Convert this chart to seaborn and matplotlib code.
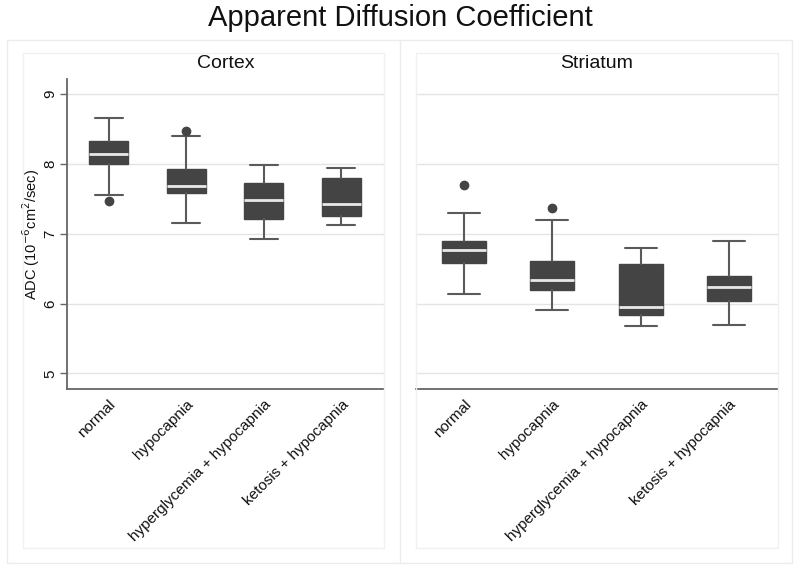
import matplotlib
matplotlib.use('Agg')
import matplotlib.pyplot as plt
import seaborn as sns
from matplotlib.patches import Rectangle

sns.set_theme(style='white')
plt.rcParams['font.family'] = ['Liberation Sans', 'DejaVu Sans']

# Datos (resumen de cada caja)
groups = ['normal', 'hypocapnia', 'hyperglycemia + hypocapnia', 'ketosis + hypocapnia']
regions = ['Cortex', 'Striatum']

cortex_whislo = [7.56, 7.15, 6.93, 7.12]
cortex_q1 = [8.00, 7.58, 7.21, 7.26]
cortex_med = [8.14, 7.68, 7.48, 7.43]
cortex_q3 = [8.32, 7.92, 7.72, 7.80]
cortex_whishi = [8.65, 8.40, 7.98, 7.94]
cortex_fliers = [[7.47], [8.47], [], []]

striatum_whislo = [6.13, 5.90, 5.68, 5.69]
striatum_q1 = [6.58, 6.20, 5.84, 6.03]
striatum_med = [6.77, 6.33, 5.95, 6.23]
striatum_q3 = [6.90, 6.61, 6.56, 6.40]
striatum_whishi = [7.29, 7.19, 6.79, 6.90]
striatum_fliers = [[7.70], [7.37], [], []]

yticks = [5, 6, 7, 8, 9]


def make_stats(lo, q1, med, q3, hi, fl):
    return [dict(label=g, whislo=a, q1=b, med=c, q3=d, whishi=e, fliers=f)
            for g, a, b, c, d, e, f in zip(groups, lo, q1, med, q3, hi, fl)]


stats = {
    'Cortex': make_stats(cortex_whislo, cortex_q1, cortex_med, cortex_q3, cortex_whishi, cortex_fliers),
    'Striatum': make_stats(striatum_whislo, striatum_q1, striatum_med, striatum_q3, striatum_whishi, striatum_fliers),
}

W, H = 800, 571
fig = plt.figure(figsize=(8, 5.71), dpi=100)
fig.patch.set_facecolor('white')


def fx(px):
    return px / W


def fy(py):
    return 1 - py / H


# Marcos de fondo (estilo Stata)
fig.patches.append(Rectangle((fx(7), fy(563)), fx(785), (563 - 40) / H, transform=fig.transFigure,
                             fill=False, edgecolor='#ececec', lw=1, zorder=0))
fig.lines.append(plt.Line2D([fx(400), fx(400)], [fy(40), fy(563)], transform=fig.transFigure,
                            color='#ececec', lw=1))
for x0, x1 in [(22.7, 384), (416, 777.7)]:
    fig.patches.append(Rectangle((fx(x0), fy(548)), fx(x1 - x0), (548 - 52.7) / H, transform=fig.transFigure,
                                 fill=False, edgecolor='#f0f0f0', lw=1, zorder=0))

axes_px = {'Cortex': (66.7, 384), 'Striatum': (416, 777.7)}
top_px, bot_px = 79.3, 389

box_col = '#444444'
line_col = '#5a5a5a'

axs = []
for reg in regions:
    x0, x1 = axes_px[reg]
    ax = fig.add_axes([fx(x0), fy(bot_px), fx(x1 - x0), (bot_px - top_px) / H])
    ax.bxp(stats[reg], positions=range(len(groups)), widths=0.5, capwidths=0.36,
           patch_artist=True, showfliers=True,
           boxprops=dict(facecolor=box_col, edgecolor=box_col, lw=1),
           medianprops=dict(color='#e8e8e8', lw=2),
           whiskerprops=dict(color=line_col, lw=1.5),
           capprops=dict(color=line_col, lw=1.5),
           flierprops=dict(marker='o', markerfacecolor=box_col, markeredgecolor=box_col, markersize=6))
    ax.set_xlim(-0.54, 3.55)
    ax.set_ylim(4.776, 9.21)
    ax.set_yticks(yticks)
    ax.yaxis.grid(True, color='#e4e4e4', lw=1)
    ax.set_axisbelow(True)
    ax.set_xticks(range(len(groups)))
    ax.set_xticklabels(groups, rotation=45, ha='right', rotation_mode='anchor', fontsize=11, color='#111111')
    ax.tick_params(axis='x', length=0, pad=6)
    sns.despine(ax=ax, top=True, right=True)
    ax.spines['bottom'].set_color('#666666')
    ax.spines['bottom'].set_linewidth(1.3)
    ax.set_facecolor('white')
    fig.text(fx((x0 + x1) / 2), fy(64), reg, ha='center', va='center', fontsize=14, color='#111111')
    axs.append(ax)

ax0, ax1 = axs
ax0.spines['left'].set_color('#666666')
ax0.spines['left'].set_linewidth(1.3)
ax0.tick_params(axis='y', left=True, length=5, width=1, pad=2, color='#666666', labelsize=11,
                labelcolor='#111111', labelrotation=90)
for lab in ax0.get_yticklabels():
    lab.set_va('center')
ax0.set_ylabel('ADC (10$^{-6}$cm$^{2}$/sec)', fontsize=10.5, color='#111111')
ax0.yaxis.set_label_coords(-0.112, 0.5)
ax0.yaxis.label.set_va('center')

ax1.spines['left'].set_visible(False)
ax1.tick_params(axis='y', left=False, labelleft=False)

fig.text(0.5, fy(18), 'Apparent Diffusion Coefficient', ha='center', va='center', fontsize=21, color='#111111')

fig.savefig('out.png', dpi=100, facecolor='white')
